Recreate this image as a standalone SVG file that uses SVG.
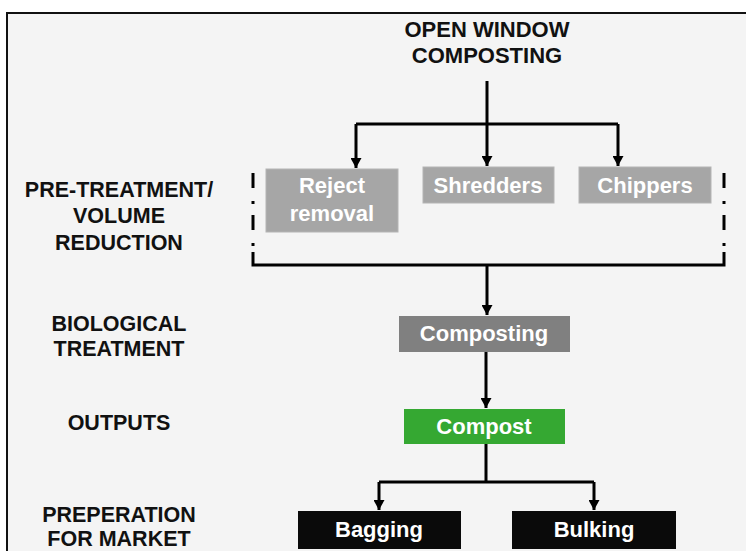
<svg xmlns="http://www.w3.org/2000/svg" width="746" height="551" viewBox="0 0 746 551">
<defs>
<marker id="ah" viewBox="0 0 10 10" refX="10" refY="5" markerWidth="10" markerHeight="11" markerUnits="userSpaceOnUse" orient="auto" preserveAspectRatio="none">
<path d="M0,0 L10,5 L0,10 Z" fill="#000"/>
</marker>
<style>
.lbl{font-family:"Liberation Sans",Arial,sans-serif;font-weight:bold;font-size:21.5px;fill:#111;text-anchor:middle}
.bt{font-family:"Liberation Sans",Arial,sans-serif;font-weight:bold;font-size:22px;fill:#fff;text-anchor:middle}
.ln{fill:none;stroke:#000;stroke-width:3}
.lg{fill:#a6a6a6;stroke:#b4b4b4;stroke-width:1}
</style>
</defs>
<rect x="0" y="0" width="746" height="551" fill="#fff"/>
<rect x="7" y="13" width="750" height="560" fill="#f4f4f4" stroke="#111" stroke-width="2"/>

<g id="title">
<text class="lbl" x="487" y="37" style="font-size:22px">OPEN WINDOW</text>
<text class="lbl" x="487" y="63" style="font-size:22px">COMPOSTING</text>
</g>

<g id="stage-labels">
<text class="lbl" x="119" y="197">PRE-TREATMENT/</text>
<text class="lbl" x="119" y="223">VOLUME</text>
<text class="lbl" x="119" y="250">REDUCTION</text>
<text class="lbl" x="119" y="331">BIOLOGICAL</text>
<text class="lbl" x="119" y="356">TREATMENT</text>
<text class="lbl" x="119" y="430">OUTPUTS</text>
<text class="lbl" x="119" y="522">PREPERATION</text>
<text class="lbl" x="119" y="546">FOR MARKET</text>
</g>

<g id="connectors">
<path class="ln" d="M487,81 V124"/>
<path class="ln" d="M356,124 H618"/>
<path class="ln" d="M356,124 V168" marker-end="url(#ah)"/>
<path class="ln" d="M487,124 V166" marker-end="url(#ah)"/>
<path class="ln" d="M618,124 V166" marker-end="url(#ah)"/>
<path class="ln" d="M253,173 V252" stroke-dasharray="15 13 3 11"/>
<path class="ln" d="M724,173 V252" stroke-dasharray="15 13 3 11"/>
<path class="ln" d="M253,252 V265 H724 V252"/>
<path class="ln" d="M487,265 V315" marker-end="url(#ah)"/>
<path class="ln" d="M486,352 V408" marker-end="url(#ah)"/>
<path class="ln" d="M486,444 V482"/>
<path class="ln" d="M379,482 H594"/>
<path class="ln" d="M379,482 V510" marker-end="url(#ah)"/>
<path class="ln" d="M594,482 V510" marker-end="url(#ah)"/>
</g>

<g id="reject-removal">
<rect class="lg" x="266" y="169" width="132" height="63"/>
<text class="bt" x="332" y="193">Reject</text>
<text class="bt" x="332" y="221">removal</text>
</g>
<g id="shredders">
<rect class="lg" x="423" y="167" width="131" height="36"/>
<text class="bt" x="488" y="193">Shredders</text>
</g>
<g id="chippers">
<rect class="lg" x="579" y="167" width="132" height="36"/>
<text class="bt" x="645" y="193">Chippers</text>
</g>
<g id="composting">
<rect x="399" y="316" width="171" height="36" fill="#808080"/>
<text class="bt" x="484" y="341">Composting</text>
</g>
<g id="compost">
<rect x="404" y="409" width="161" height="35" fill="#35a832"/>
<text class="bt" x="484" y="434">Compost</text>
</g>
<g id="bagging">
<rect x="298" y="511" width="163" height="38" fill="#0a0a0a"/>
<text class="bt" x="379" y="537">Bagging</text>
</g>
<g id="bulking">
<rect x="512" y="511" width="164" height="38" fill="#0a0a0a"/>
<text class="bt" x="594" y="537">Bulking</text>
</g>
</svg>
